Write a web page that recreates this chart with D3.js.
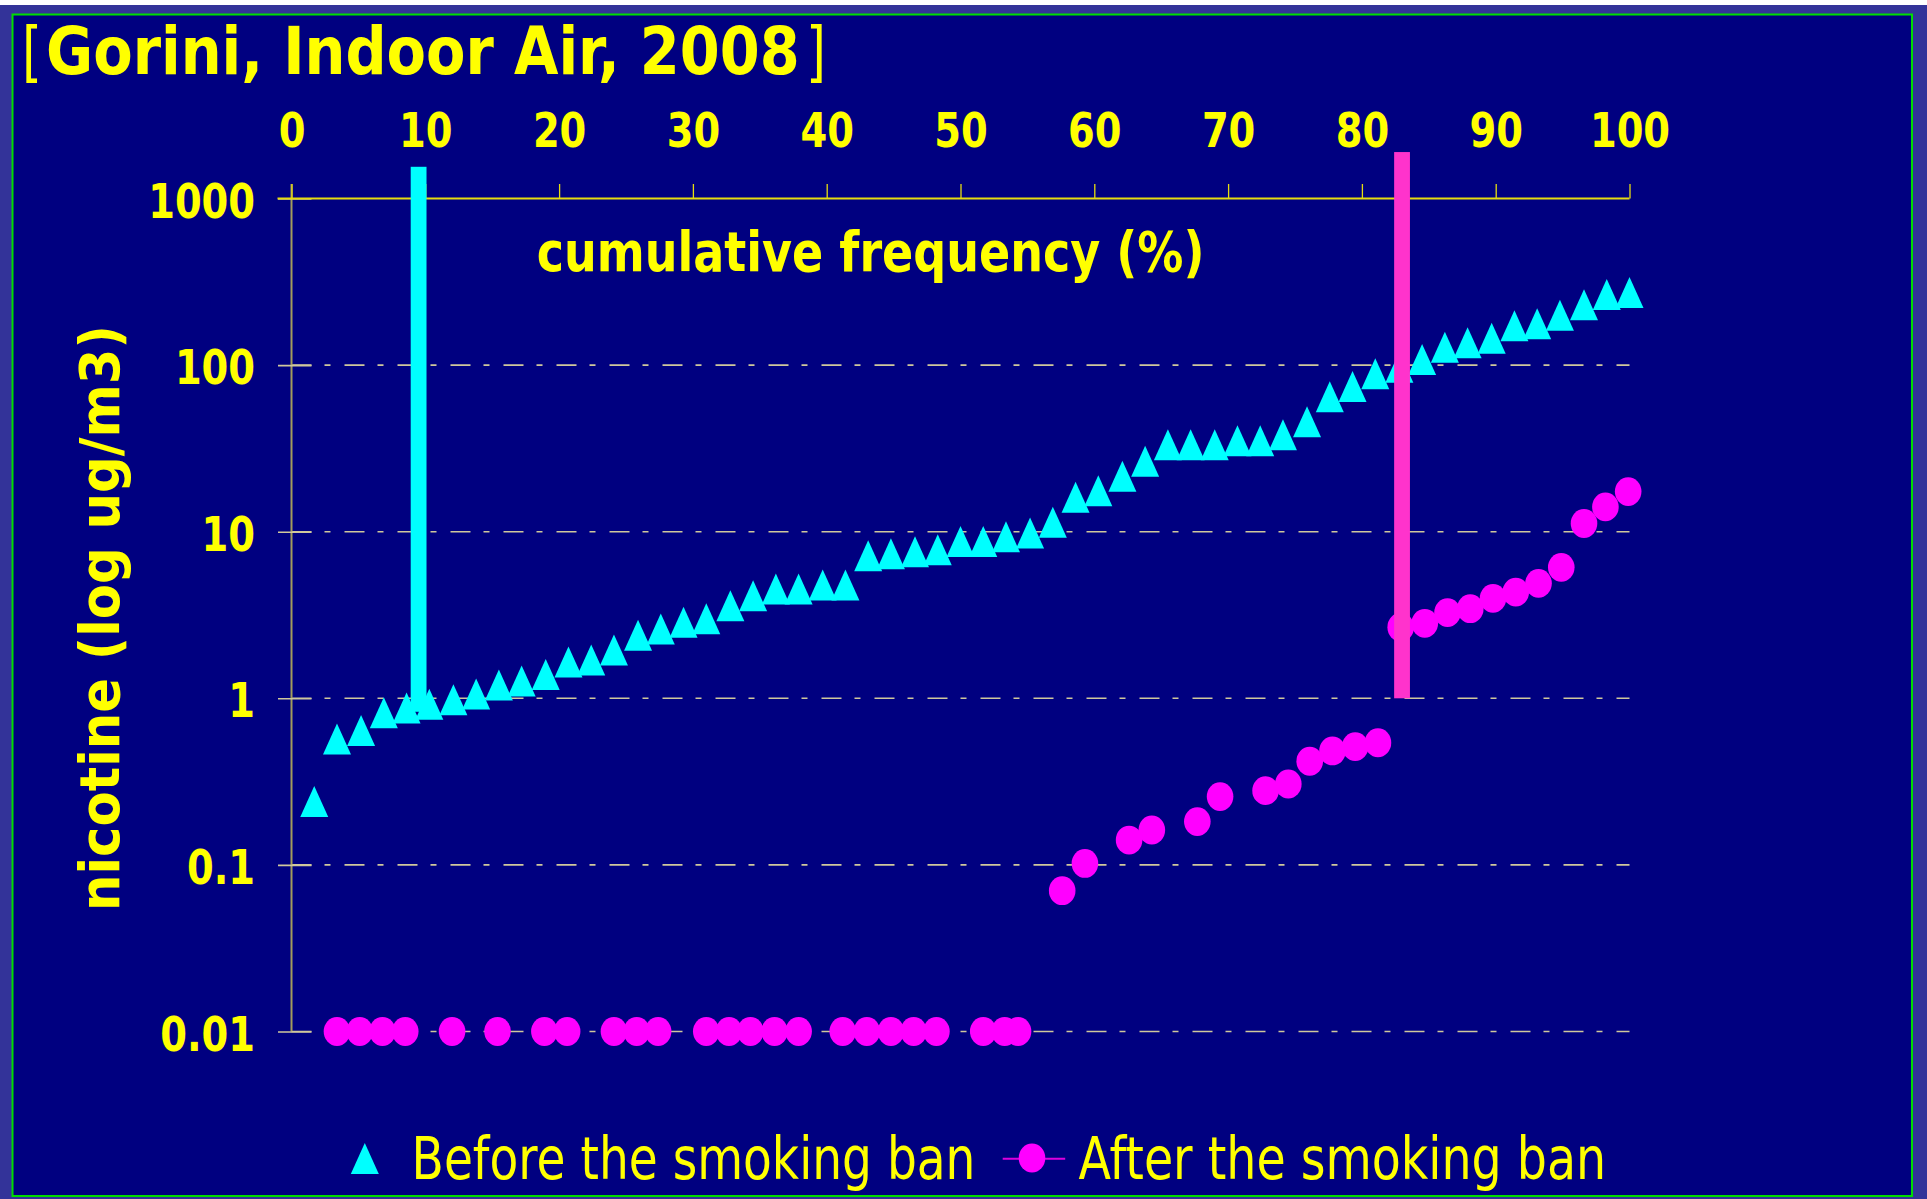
<!DOCTYPE html>
<html><head><meta charset="utf-8">
<script src="https://cdn.jsdelivr.net/npm/d3@7"></script>
<style>
html,body{margin:0;padding:0;background:#fff;overflow:hidden}
svg{display:block}
text{font-family:"DejaVu Sans",Verdana,sans-serif}
</style></head><body>
<svg id="chart" width="1927" height="1199"></svg>
<script>
// ---------- data ----------
const xTickValues = [0,10,20,30,40,50,60,70,80,90,100];
const yTickValues = [0.01,0.1,1,10,100,1000];
const yTickLabels = ["0.01","0.1","1","10","100","1000"];

const beforeX = [1.7,3.4,5.2,6.9,8.6,10.3,12.1,13.8,15.5,17.2,19.0,20.7,22.4,24.1,25.9,27.6,29.3,31.0,32.8,34.5,
  36.2,37.9,39.7,41.4,43.1,44.8,46.6,48.3,50.0,51.7,53.4,55.2,56.9,58.6,60.3,62.1,63.8,65.5,67.2,69.0,
  70.7,72.4,74.1,75.9,77.6,79.3,81.0,82.8,84.5,86.2,87.9,89.7,91.4,93.1,94.8,96.6,98.3,100];
const beforeY = [0.24,0.57,0.64,0.82,0.875,0.92,0.98,1.06,1.2,1.27,1.39,1.65,1.70,1.95,2.39,2.61,2.86,3.0,3.59,4.12,
  4.53,4.53,4.78,4.78,7.18,7.38,7.57,7.78,8.73,8.73,9.31,9.82,11.4,16.1,17.6,21.5,26.5,33.3,33.3,33.3,
  35.1,35.1,38.2,45.7,64.5,74.4,88.6,97,108,128,136,145,172,177,199,230,265,273];

const afterX = [3.4,5.1,6.8,8.5,12.0,15.4,18.9,20.6,24.1,25.8,27.4,31.0,32.7,34.3,36.1,37.9,41.2,43.0,44.8,46.5,
  48.2,51.7,53.3,54.3,57.6,59.3,62.6,64.3,67.7,69.4,72.8,74.5,76.1,77.8,79.5,81.2,82.9,84.7,86.4,88.1,
  89.8,91.5,93.2,94.9,96.6,98.2,99.9];
const afterY = [0.01,0.01,0.01,0.01,0.01,0.01,0.01,0.01,0.01,0.01,0.01,0.01,0.01,0.01,0.01,0.01,0.01,0.01,0.01,0.01,
  0.01,0.01,0.01,0.01,0.070,0.102,0.141,0.162,0.182,0.257,0.279,0.306,0.419,0.483,0.513,0.541,2.67,2.82,3.27,3.45,
  3.98,4.34,4.90,6.11,11.2,14.1,17.4];

const refBarX = [9.5, 83.0];
const refBarTop = [1550, 1900];
const refBarBottom = [0.83, 1.0];

const seriesNames = ["Before the smoking ban","After the smoking ban"];
const titleParts = ["[","Gorini, Indoor Air, 2008","]"];
const xAxisTitle = "cumulative frequency (%)";
const yAxisTitle = "nicotine (log ug/m3)";

// ---------- styles ----------
const C = {
  frame:"#333399", border:"#00dd00", bg:"#000080", yellow:"#ffff00",
  axisTop:"#e6dc10", axisLeft:"#a39c5c", grid:"#cfc79c",
  before:"#00ffff", after:"#ff00ff", bars:["#00ffff","#ff33cc"]
};
const FONT = '"DejaVu Sans", Verdana, sans-serif';

const svg = d3.select("#chart");
svg.append("rect").attr("x",0).attr("y",5).attr("width",1927).attr("height",1194).attr("fill",C.frame);
svg.append("rect").attr("x",12.5).attr("y",14.5).attr("width",1899.5).attr("height",1181.5)
  .attr("fill",C.bg).attr("stroke",C.border).attr("stroke-width",2);

const x = d3.scaleLinear().domain([0,100]).range([291.5,1629.5]);
const y = d3.scaleLog().domain([0.01,1000]).range([1031.5,198.5]);

// gridlines
svg.append("g").selectAll("line").data(yTickValues.filter(v => v < 1000)).join("line")
  .attr("x1", x(0)).attr("x2", x(100)).attr("y1", d => y(d)).attr("y2", d => y(d))
  .attr("stroke", C.grid).attr("stroke-width", 1.6).attr("stroke-dasharray", "20 13 6 14");

// left axis line
svg.append("line").attr("x1", x(0)).attr("x2", x(0)).attr("y1", y(1000) - 14.5).attr("y2", y(0.01))
  .attr("stroke", C.axisLeft).attr("stroke-width", 2);

// y axis
const yAxisG = svg.append("g").attr("transform", `translate(${x(0)},0)`)
  .call(d3.axisLeft(y).tickValues(yTickValues).tickFormat((d,i) => yTickLabels[i]).tickSizeOuter(0));
yAxisG.attr("font-family", null).attr("font-size", null);
yAxisG.select(".domain").remove();
yAxisG.selectAll(".tick line").attr("x1", -13.5).attr("x2", 20).attr("stroke", C.grid).attr("stroke-width", 1.6);
yAxisG.selectAll(".tick text").attr("x", -45.6).attr("dy", null).attr("y", 18.5)
  .attr("transform", "scale(0.8,1)").attr("fill", C.yellow).attr("font-size", 48)
  .attr("font-weight", "bold").attr("font-family", FONT);

// top axis
const xAxisG = svg.append("g").attr("transform", `translate(0,${y(1000)})`)
  .call(d3.axisTop(x).tickValues(xTickValues).tickSize(14.5).tickSizeOuter(0));
xAxisG.attr("font-family", null).attr("font-size", null);
xAxisG.select(".domain").remove();
xAxisG.selectAll(".tick line").attr("stroke", C.axisTop).attr("stroke-width", 1.3);
xAxisG.selectAll(".tick text").attr("y", -51.8).attr("dy", null)
  .attr("transform", "scale(0.8,1)").attr("fill", C.yellow).attr("font-size", 48)
  .attr("font-weight", "bold").attr("font-family", FONT);
svg.append("line").attr("x1", x(0) - 14).attr("x2", x(100)).attr("y1", y(1000)).attr("y2", y(1000))
  .attr("stroke", C.axisTop).attr("stroke-width", 2.2);

// markers
const tri = "M0,-15.5L14,15.5L-14,15.5Z";
svg.append("g").selectAll("path").data(beforeX.map((d,i) => [d, beforeY[i]])).join("path")
  .attr("d", tri).attr("transform", d => `translate(${x(d[0])},${y(d[1])})`).attr("fill", C.before);
svg.append("g").selectAll("ellipse").data(afterX.map((d,i) => [d, afterY[i]])).join("ellipse")
  .attr("cx", d => x(d[0])).attr("cy", d => y(d[1])).attr("rx", 13.3).attr("ry", 14.4).attr("fill", C.after);

// reference bars
svg.append("g").selectAll("rect").data(refBarX.map((d,i) => [d, refBarTop[i], refBarBottom[i], i])).join("rect")
  .attr("x", d => x(d[0]) - 7.9).attr("width", 15.8)
  .attr("y", d => y(d[1])).attr("height", d => y(d[2]) - y(d[1]))
  .attr("fill", d => C.bars[d[3]]);

// fitted text helper: text is drawn at natural size, then squeezed horizontally to a target width
function fitText(str, tx, ty, width, size, weight, rotate, anchor) {
  const g = svg.append("g");
  const t = g.append("text").attr("x", 0).attr("y", 0).attr("font-size", size)
    .attr("font-weight", weight).attr("fill", C.yellow).attr("font-family", FONT)
    .attr("text-anchor", anchor || "start").text(str);
  const len = t.node().getComputedTextLength();
  const s = width / len;
  g.attr("transform", `translate(${tx},${ty})${rotate ? " rotate(" + rotate + ")" : ""} scale(${s},1)`);
  return g;
}

// titles
fitText(titleParts[0], 22, 74, 20, 65, "normal");
fitText(titleParts[1], 46, 74, 754, 65, "bold");
fitText(titleParts[2], 806, 74, 20, 65, "normal");
fitText(xAxisTitle, 536.7, 270.6, 668, 56, "bold");
fitText(yAxisTitle, 119, 618, 586, 56, "bold", -90, "middle");

// legend
const lg = svg.append("g");
lg.append("path").attr("d", tri).attr("transform", "translate(364.8,1158.5)").attr("fill", C.before);
lg.append("line").attr("x1", 1002.7).attr("x2", 1065.2).attr("y1", 1158.7).attr("y2", 1158.7)
  .attr("stroke", "#dd00dd").attr("stroke-width", 2);
lg.append("ellipse").attr("cx", 1032).attr("cy", 1158).attr("rx", 13.3).attr("ry", 14.4).attr("fill", C.after);
fitText(seriesNames[0], 411.6, 1179.3, 564, 58, "normal");
fitText(seriesNames[1], 1078.6, 1179.3, 527.7, 58, "normal");
</script>
</body></html>
